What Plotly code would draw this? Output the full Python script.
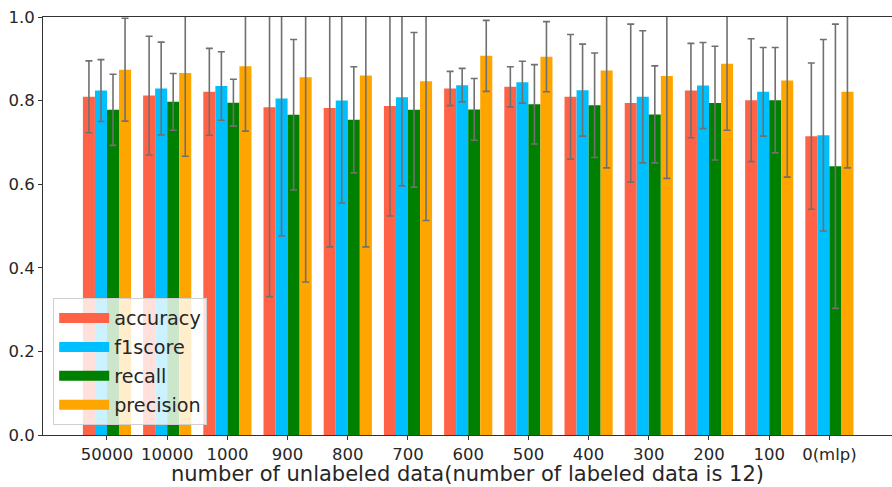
import plotly.graph_objects as go

categories = ["50000", "10000", "1000", "900", "800", "700", "600", "500",
              "400", "300", "200", "100", "0(mlp)"]

accuracy = [0.809, 0.812, 0.821, 0.784, 0.782, 0.787, 0.829, 0.833,
            0.809, 0.794, 0.824, 0.801, 0.715]
accuracy_err = [0.086, 0.142, 0.104, 0.453, 0.332, 0.263, 0.041, 0.048,
                0.149, 0.189, 0.113, 0.147, 0.175]

f1score = [0.824, 0.829, 0.835, 0.805, 0.800, 0.808, 0.837, 0.844,
           0.825, 0.809, 0.836, 0.821, 0.717]
f1score_err = [0.074, 0.111, 0.082, 0.329, 0.245, 0.212, 0.040, 0.050,
               0.110, 0.158, 0.103, 0.106, 0.229]

recall = [0.778, 0.797, 0.795, 0.766, 0.754, 0.778, 0.779, 0.791,
          0.789, 0.767, 0.794, 0.801, 0.643]
recall_err = [0.085, 0.068, 0.056, 0.180, 0.127, 0.185, 0.074, 0.095,
              0.125, 0.116, 0.136, 0.126, 0.340]

precision = [0.874, 0.866, 0.882, 0.856, 0.860, 0.846, 0.907, 0.905,
             0.872, 0.859, 0.888, 0.848, 0.821]
precision_err = [0.123, 0.199, 0.155, 0.490, 0.410, 0.333, 0.085, 0.084,
                 0.233, 0.245, 0.159, 0.231, 0.182]

y_ticks = [0.0, 0.2, 0.4, 0.6, 0.8, 1.0]
x_title = "number of unlabeled data(number of labeled data is 12)"

series = [
    ("accuracy", accuracy, accuracy_err, "#ff6347"),
    ("f1score", f1score, f1score_err, "#00bfff"),
    ("recall", recall, recall_err, "#008000"),
    ("precision", precision, precision_err, "#ffa500"),
]

FONT = "DejaVu Sans"
fig = go.Figure()

for name, vals, errs, color in series:
    fig.add_trace(go.Bar(
        x=categories, y=vals, name=name,
        marker=dict(color=color, line=dict(width=0)),
        error_y=dict(type="data", array=errs, visible=True,
                     color="#707070", thickness=1.6, width=3.5),
        showlegend=False,
    ))

# legend entries drawn as wide swatches
for i, (name, vals, errs, color) in enumerate(series):
    fig.add_trace(go.Scatter(
        x=[None], y=[None], mode="lines", name=name,
        line=dict(color=color, width=13),
        legendgroup="g%d" % i, showlegend=True,
    ))

fig.add_annotation(
    text=x_title, xref="paper", yref="paper", x=0.5, y=-0.093,
    xanchor="center", yanchor="middle", showarrow=False,
    font=dict(family=FONT, size=21, color="#262626"),
)

fig.update_layout(
    width=892, height=487,
    margin=dict(l=43, r=0, t=17, b=52),
    paper_bgcolor="white", plot_bgcolor="white",
    barmode="group", bargap=0.2, bargroupgap=0.0,
    font=dict(family=FONT, size=16.5, color="#262626"),
    legend=dict(
        x=0.012, y=0.024, xanchor="left", yanchor="bottom",
        bgcolor="rgba(255,255,255,0.8)", bordercolor="#d0d0d0", borderwidth=1,
        font=dict(family=FONT, size=19.2, color="#262626"),
        tracegroupgap=1, itemwidth=50,
    ),
    xaxis=dict(
        type="category", range=[-1.063, 13.04],
        showline=True, linecolor="#333333", linewidth=1, mirror=True,
        ticks="outside", ticklen=4, tickcolor="#333333",
        showgrid=False, zeroline=False, automargin=False,
        tickfont=dict(family=FONT, size=16.5, color="#262626"),
    ),
    yaxis=dict(
        range=[0, 1], tickvals=y_ticks, tickformat=".1f",
        showline=True, linecolor="#333333", linewidth=1,
        ticks="outside", ticklen=4, tickcolor="#333333",
        showgrid=False, zeroline=False, automargin=False,
        tickfont=dict(family=FONT, size=16.5, color="#262626"),
    ),
)

fig.write_html("out.html")
